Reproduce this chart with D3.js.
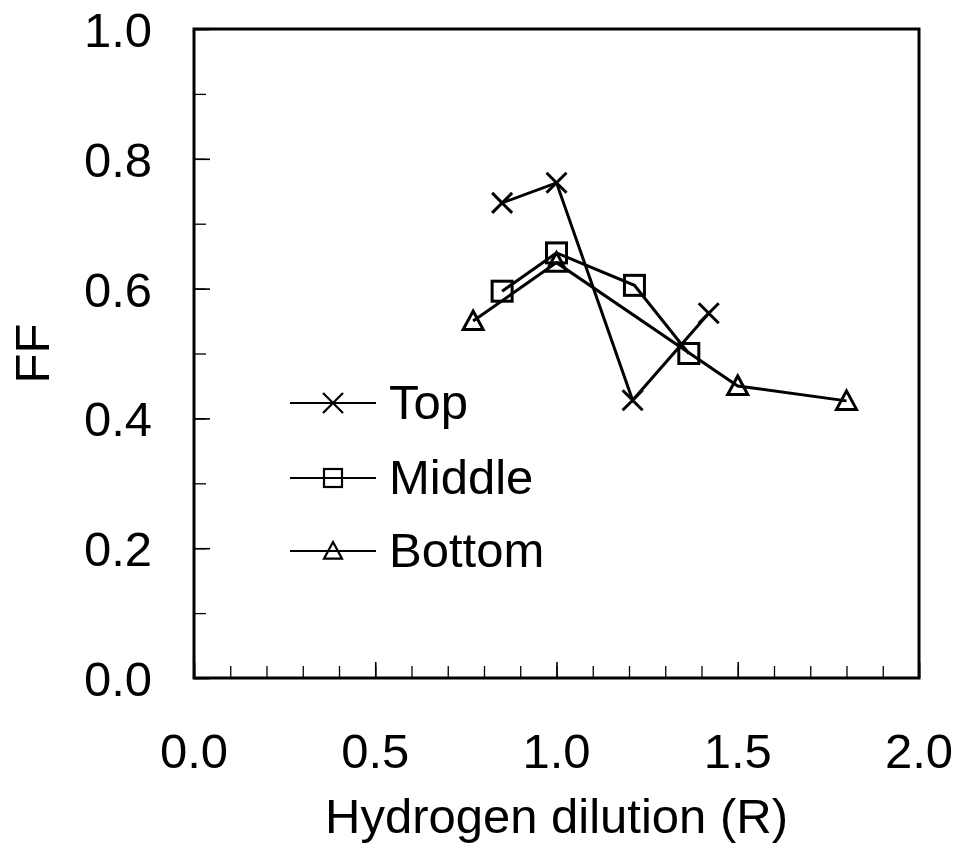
<!DOCTYPE html>
<html>
<head>
<meta charset="utf-8">
<script src="https://cdn.jsdelivr.net/npm/d3@7"></script>
<style>
  body { margin: 0; background: #fff; }
  svg { display: block; font-family: "Liberation Sans", Arial, sans-serif; }
</style>
</head>
<body>
<svg id="chart" width="958" height="850"></svg>
<script>
// data
const seriesNames = ['Top', 'Middle', 'Bottom'];
const topX = [0.85, 1.0, 1.21, 1.42];
const topY = [0.732, 0.763, 0.428, 0.562];
const middleX = [0.85, 1.0, 1.215, 1.365];
const middleY = [0.596, 0.655, 0.605, 0.50];
const bottomX = [0.77, 1.0, 1.5, 1.8];
const bottomY = [0.55, 0.64, 0.45, 0.427];
const xTickLabels = ['0.0', '0.5', '1.0', '1.5', '2.0'];
const yTickLabels = ['0.0', '0.2', '0.4', '0.6', '0.8', '1.0'];

const svg = d3.select('#chart');
const plotLeft = 194, plotRight = 919, plotTop = 29, plotBottom = 678;

const x = d3.scaleLinear().domain([0, 2]).range([plotLeft, plotRight]);
const y = d3.scaleLinear().domain([0, 1]).range([plotBottom, plotTop]);

// ticks (inward)
const xMinor = d3.range(0, 21).map(d => d / 10);
const yMinor = d3.range(0, 11).map(d => d / 10);

svg.append('g')
  .attr('transform', `translate(0,${plotBottom})`)
  .call(d3.axisBottom(x).tickValues(xMinor).tickSize(-12).tickFormat(''))
  .call(g => g.select('.domain').remove())
  .selectAll('line').attr('stroke', '#000').attr('stroke-width', 1.3);
svg.append('g')
  .attr('transform', `translate(0,${plotBottom})`)
  .call(d3.axisBottom(x).tickValues(xTickLabels.map(Number)).tickSize(-16).tickFormat(''))
  .call(g => g.select('.domain').remove())
  .selectAll('line').attr('stroke', '#000').attr('stroke-width', 1.6);

svg.append('g')
  .attr('transform', `translate(${plotLeft},0)`)
  .call(d3.axisLeft(y).tickValues(yMinor).tickSize(-12).tickFormat(''))
  .call(g => g.select('.domain').remove())
  .selectAll('line').attr('stroke', '#000').attr('stroke-width', 1.3);
svg.append('g')
  .attr('transform', `translate(${plotLeft},0)`)
  .call(d3.axisLeft(y).tickValues(yTickLabels.map(Number)).tickSize(-16).tickFormat(''))
  .call(g => g.select('.domain').remove())
  .selectAll('line').attr('stroke', '#000').attr('stroke-width', 1.6);

// frame
svg.append('rect')
  .attr('x', plotLeft).attr('y', plotTop)
  .attr('width', plotRight - plotLeft).attr('height', plotBottom - plotTop)
  .attr('fill', 'none').attr('stroke', '#000').attr('stroke-width', 3);

// tick labels
svg.append('g').selectAll('text')
  .data(xTickLabels)
  .enter()
  .append('text')
  .attr('x', d => x(+d))
  .attr('y', 768)
  .attr('text-anchor', 'middle')
  .style('font-size', '49px')
  .text(d => d);

svg.append('g').selectAll('text')
  .data(yTickLabels)
  .enter()
  .append('text')
  .attr('x', 152)
  .attr('y', d => y(+d) + 18)
  .attr('text-anchor', 'end')
  .style('font-size', '49px')
  .text(d => d);

// axis titles
svg.append('text')
  .attr('x', (plotLeft + plotRight) / 2)
  .attr('y', 833)
  .attr('text-anchor', 'middle')
  .style('font-size', '49px')
  .text('Hydrogen dilution (R)');

svg.append('text')
  .attr('transform', `translate(49,${(plotTop + plotBottom) / 2}) rotate(-90)`)
  .attr('text-anchor', 'middle')
  .style('font-size', '49px')
  .text('FF');

// markers
function marker(g, type, cx, cy, s, sw) {
  if (type === 'x') {
    g.append('path')
      .attr('d', `M${cx - s},${cy - s}L${cx + s},${cy + s}M${cx - s},${cy + s}L${cx + s},${cy - s}`)
      .attr('stroke', '#000').attr('stroke-width', sw).attr('fill', 'none');
  } else if (type === 'square') {
    g.append('rect')
      .attr('x', cx - s).attr('y', cy - s).attr('width', 2 * s).attr('height', 2 * s)
      .attr('stroke', '#000').attr('stroke-width', sw).attr('fill', 'none');
  } else {
    g.append('path')
      .attr('d', `M${cx},${cy - s}L${cx + s},${cy + s * 0.85}L${cx - s},${cy + s * 0.85}Z`)
      .attr('stroke', '#000').attr('stroke-width', sw).attr('fill', 'none')
      .attr('stroke-linejoin', 'miter');
  }
}

const series = [
  { name: seriesNames[0], xs: topX, ys: topY, type: 'x' },
  { name: seriesNames[1], xs: middleX, ys: middleY, type: 'square' },
  { name: seriesNames[2], xs: bottomX, ys: bottomY, type: 'tri' }
];

const line = d3.line().x(d => x(d[0])).y(d => y(d[1]));

series.forEach(s => {
  const pts = s.xs.map((v, i) => [v, s.ys[i]]);
  const g = svg.append('g');
  g.append('path')
    .attr('d', line(pts))
    .attr('fill', 'none')
    .attr('stroke', '#000')
    .attr('stroke-width', 3);
  pts.forEach(p => marker(g, s.type, x(p[0]), y(p[1]), 10, 3));
});

// legend
const legendY = [403, 478, 551];
series.forEach((s, i) => {
  const g = svg.append('g');
  g.append('line')
    .attr('x1', 290).attr('x2', 376)
    .attr('y1', legendY[i]).attr('y2', legendY[i])
    .attr('stroke', '#000').attr('stroke-width', 2.2);
  marker(g, s.type, 333, legendY[i], s.type === 'x' ? 10 : 9, 2.2);
  g.append('text')
    .attr('x', 389)
    .attr('y', legendY[i] + 16)
    .style('font-size', '49px')
    .text(s.name);
});
</script>
</body>
</html>
